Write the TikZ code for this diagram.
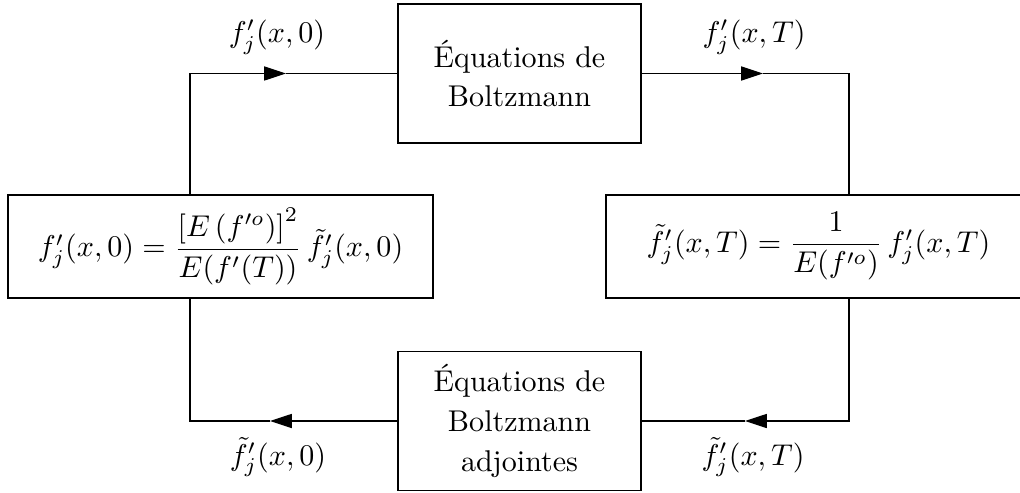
\documentclass[tikz,border=0pt]{standalone}
\usepackage{amsmath}
\usetikzlibrary{arrows.meta}
\begin{document}
\begin{tikzpicture}[x=0.333pt,y=-0.333pt,
  box/.style={draw, line width=0.4pt, align=center, font=\fontsize{10}{13.3}\selectfont, inner sep=0pt},
  eqbox/.style={box, minimum width=141.5pt, minimum height=34.3pt},
  blbox/.style={box, minimum width=80.9pt, minimum height=46.3pt},
  conn/.style={line width=0.4pt},
  tip/.style={conn, -{Triangle[length=7.3pt,width=4.7pt]}},
  lbl/.style={font=\fontsize{10}{12}\selectfont, inner sep=0pt}]
\useasboundingbox (0,0) rectangle (1020,493);
\clip (0,0) rectangle (1020,493);
\node[blbox] (T) at (519.5,73.5) {Équations de\\Boltzmann};
\node[blbox] (B) at (519.5,421) {Équations de\\Boltzmann\\adjointes};
\node[eqbox] (L) at (220.5,246.5) {$f'_j(x,0)=\dfrac{\left[E\left(f'^{o}\right)\right]^2}{E(f'(T))}\,\tilde{f}'_j(x,0)$};
\node[eqbox] (R) at (818.5,246.5) {$\tilde{f}'_j(x,T)=\dfrac{1}{E(f'^{o})}\,f'_j(x,T)$};
\coordinate (lv) at (190,0);
\coordinate (rv) at (849,0);
\coordinate (a1) at (286,73.5);
\coordinate (a2) at (763,73.5);
\coordinate (a3) at (745,421);
\coordinate (a4) at (270,421);
\draw[tip] (L.north -| lv) |- (a1);
\draw[conn] (a1) -- (T.west);
\draw[tip] (T.east) -- (a2);
\draw[conn] (a2) -| (R.north -| rv);
\draw[tip] (R.south -| rv) |- (a3);
\draw[conn] (a3) -- (B.east);
\draw[tip] (B.west) -- (a4);
\draw[conn] (a4) -| (L.south -| lv);
\node[lbl] (l1) at (277,37) {$f'_j(x,0)$};
\node[lbl] (l2) at (754,37) {$f'_j(x,T)$};
\node[lbl] (l3) at (278,457) {$\tilde{f}'_j(x,0)$};
\node[lbl] (l4) at (753,457) {$\tilde{f}'_j(x,T)$};
\end{tikzpicture}
\end{document}
